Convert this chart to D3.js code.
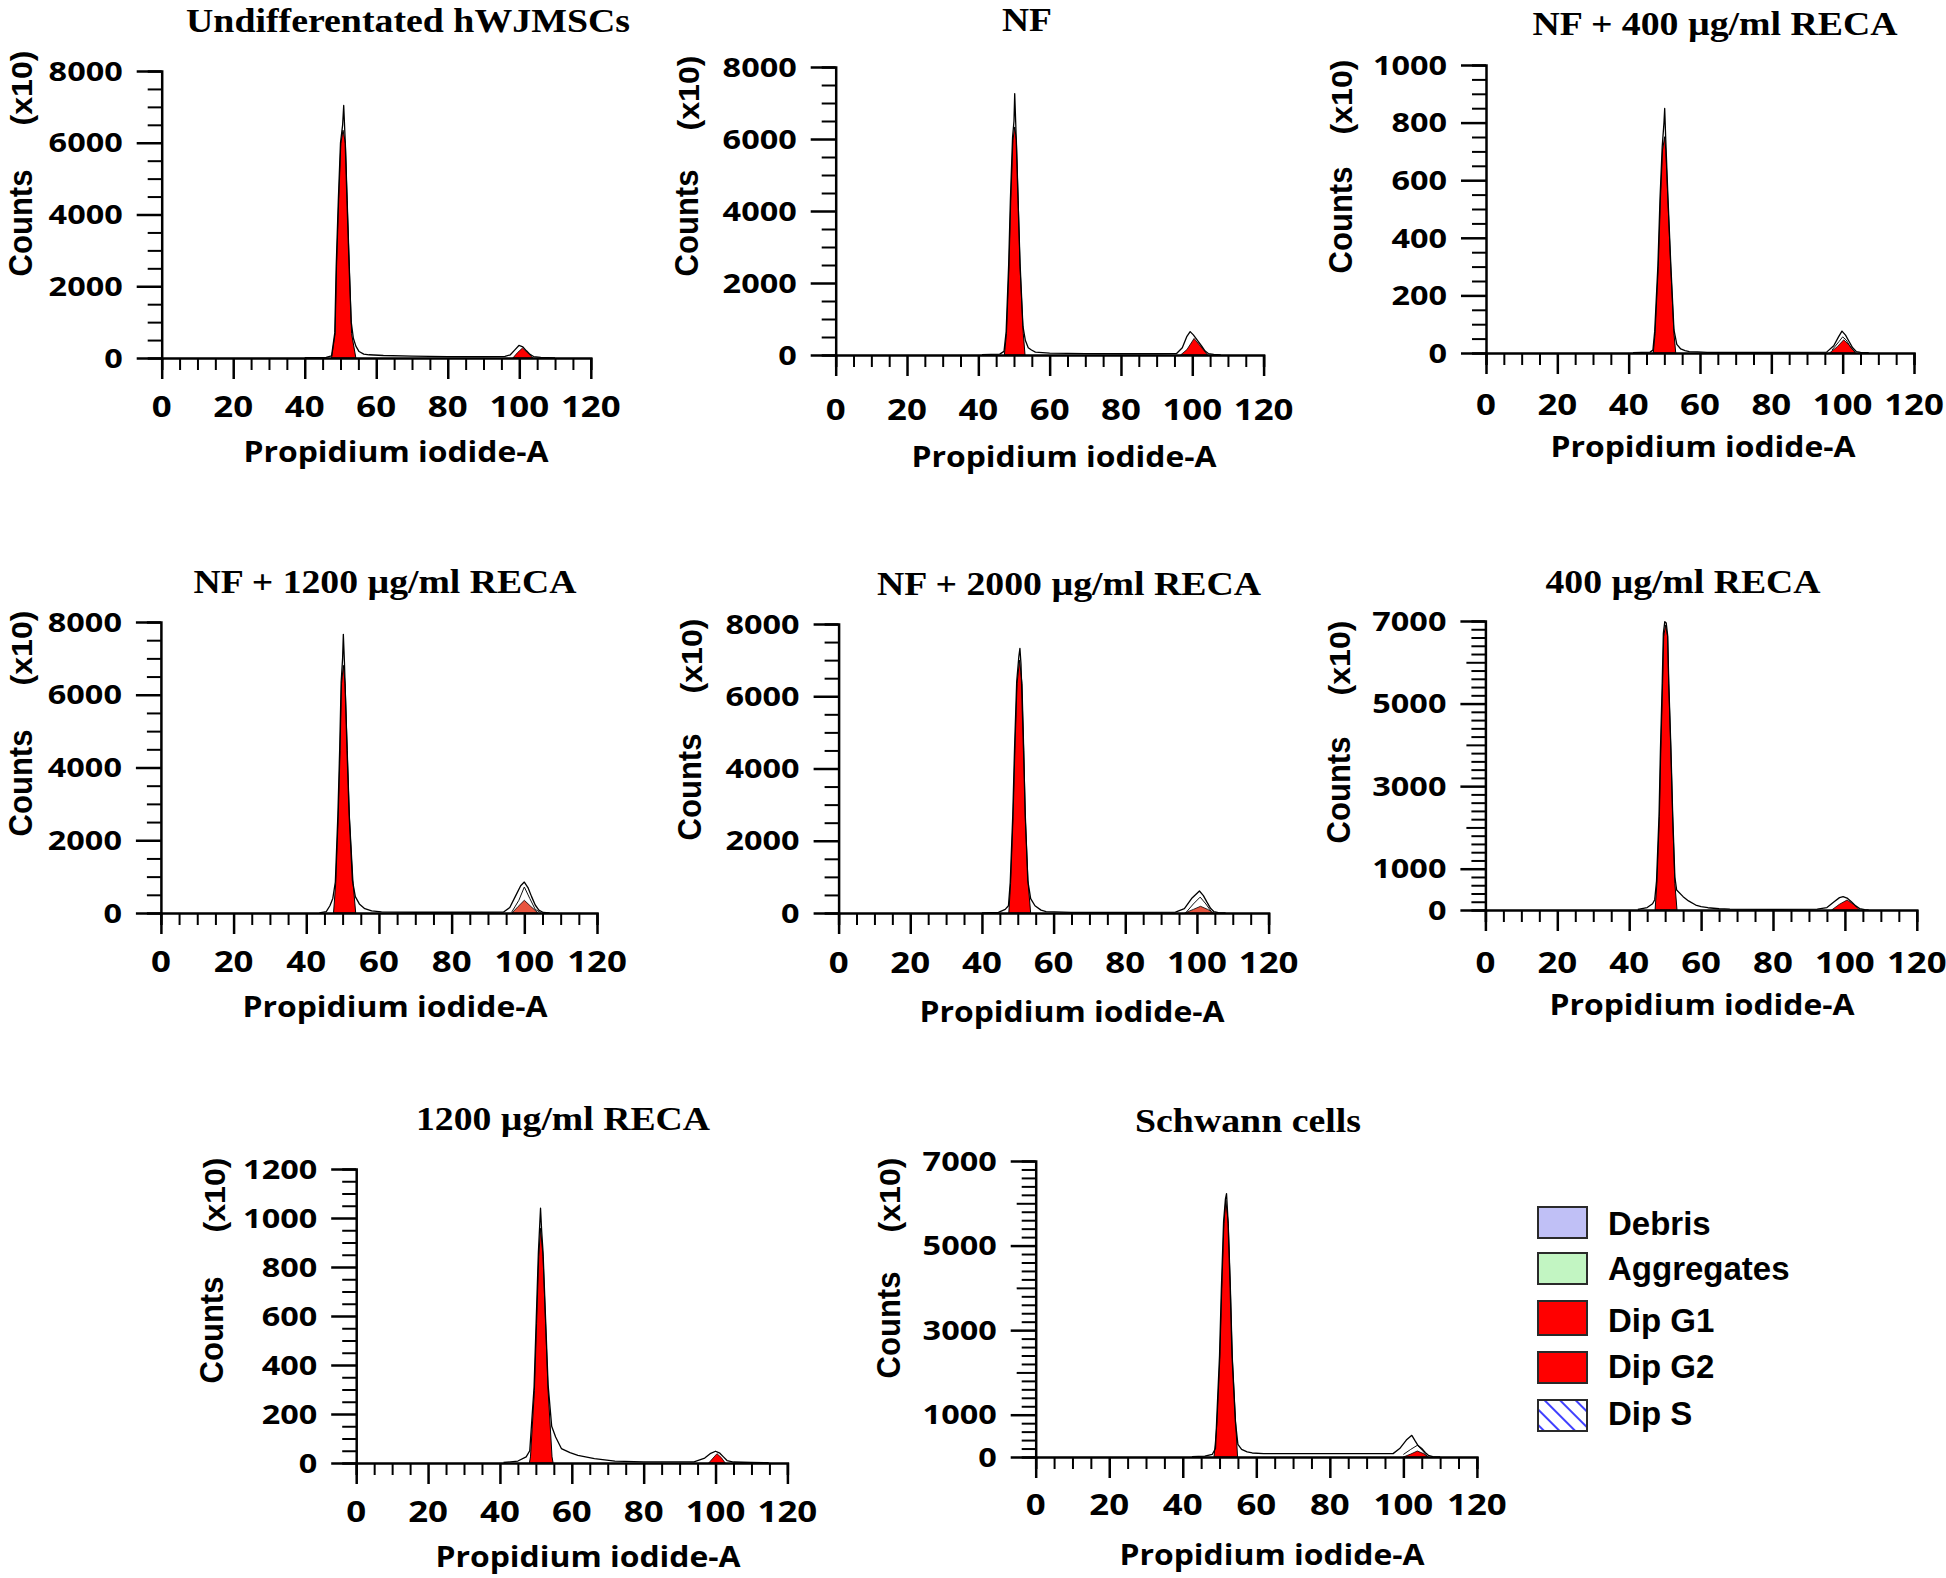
<!DOCTYPE html>
<html><head><meta charset="utf-8">
<script src="https://cdn.jsdelivr.net/npm/d3@7"></script>
<style>body{margin:0;background:#fff}</style>
</head><body>
<svg id="chart" width="1946" height="1578" xmlns="http://www.w3.org/2000/svg"></svg>
<script>
// ================= DATA =================
const panelTitles = ["Undifferentated hWJMSCs", "NF", "NF + 400 µg/ml RECA", "NF + 1200 µg/ml RECA",
  "NF + 2000 µg/ml RECA", "400 µg/ml RECA", "1200 µg/ml RECA", "Schwann cells"];
const xTickLabels = [0, 20, 40, 60, 80, 100, 120];
const yMax = [8000, 8000, 1000, 8000, 8000, 7000, 1200, 7000];
const yMinorStep = [500, 500, 50, 500, 500, 200, 50, 200];
const yTickLabels = [
  [0, 2000, 4000, 6000, 8000],
  [0, 2000, 4000, 6000, 8000],
  [0, 200, 400, 600, 800, 1000],
  [0, 2000, 4000, 6000, 8000],
  [0, 2000, 4000, 6000, 8000],
  [0, 1000, 3000, 5000, 7000],
  [0, 200, 400, 600, 800, 1000, 1200],
  [0, 1000, 3000, 5000, 7000]
];
const xAxisLabel = "Propidium iodide-A";
const yAxisLabel = "Counts";
const yUnitLabel = "(x10)";
const legendLabels = ["Debris", "Aggregates", "Dip G1", "Dip G2", "Dip S"];

// Dip G1 (red) peak outlines: [channel, counts]
const g1Undiff = [[47.5,0],[48.5,680],[48.9,2540],[49.5,4400],[50.1,5980],[50.7,6350],[51.4,5980],[51.9,4400],[52.5,2540],[53.1,680],[54.3,0]];
const g1NF = [[47.3,0],[47.9,600],[48.6,2450],[49.1,4300],[49.7,5960],[50.2,6335],[50.7,5960],[51.2,4300],[51.7,2450],[52.6,600],[53.1,0]];
const g1NF400 = [[46.9,0],[47.4,67],[48.3,299],[48.9,531],[49.5,705],[50.1,751],[50.4,705],[51,531],[51.8,299],[52.7,67],[53.2,0]];
const g1NF1200 = [[47.5,0],[48.1,806],[48.8,2640],[49.3,4470],[49.7,6300],[50.2,6808],[50.7,6300],[51.3,4470],[51.9,2640],[52.9,806],[53.6,0]];
const g1NF2000 = [[47.5,0],[48,813],[48.7,2660],[49.2,4500],[49.8,6350],[50.5,7000],[51.2,6350],[51.7,4500],[52.1,2660],[52.9,813],[53.6,0]];
const g1R400 = [[47.2,0],[47.7,646],[48.4,2260],[48.8,3875],[49.3,5490],[49.6,6620],[50.1,6900],[50.7,6620],[51,5490],[51.6,3875],[52.1,2260],[52.7,646],[53.3,0]];
const g1R1200 = [[48.2,0],[48.5,25],[49.6,297],[50.2,570],[50.8,843],[51.3,958],[52,843],[52.7,570],[53.4,297],[54.5,25],[54.8,0]];
const g1Schwann = [[48.5,0],[49.3,789],[50.1,2365],[50.6,3940],[51.2,5520],[51.7,6070],[52.4,5520],[53,3940],[53.5,2365],[54.4,789],[54.9,0]];

// Dip G2 (red) peak outlines
const g2Undiff = [[98.2,0],[99.5,150],[100.9,279],[102.4,140],[103.8,0]];
const g2NF = [[96.7,0],[98.5,150],[100.5,460],[102.5,220],[104.3,0]];
const g2NF400 = [[96.3,0],[98.5,22],[100.3,46],[102,25],[103.6,0]];
const g2NF1200 = [[96.6,0],[98.3,180],[100,350],[101.8,180],[103.8,0]];
const g2NF2000 = [[96.6,0],[99,100],[101,185],[103,100],[104.7,0]];
const g2R400 = [[96.3,0],[98.5,140],[100.6,242],[102.5,130],[104.1,0]];
const g2R1200 = [[98.1,0],[99.3,20],[100.4,38],[101.6,22],[102.7,0]];
const g2Schwann = [[100,0],[102,70],[103.8,142],[105.5,80],[106.8,0]];

// Total fitted histogram envelope (black line)
const fitUndiff = [[40,10],[46,20],[47.5,60],[48.4,700],[48.8,2560],[49.4,4420],[50,6000],[50.6,6500],[50.9,7040],[51.3,6100],[51.8,4450],[52.4,2600],[53,1000],[53.6,550],[54.3,330],[55.2,180],[56.5,110],[58,90],[62,70],[70,50],[80,40],[90,40],[96,45],[97.5,90],[98.7,220],[99.9,350],[101,310],[102,200],[103,100],[104,40],[106,15],[110,5]];
const fitNF = [[41,10],[46,25],[47.2,100],[47.8,650],[48.5,2500],[49,4350],[49.6,6050],[50,6500],[50.2,7260],[50.5,6400],[51.1,4400],[51.7,2550],[52.5,800],[53.2,400],[54,200],[54.9,140],[56,80],[60,50],[70,40],[80,35],[90,35],[95.6,40],[97.2,200],[98.5,520],[99.4,650],[100.3,560],[101.5,400],[102.6,250],[103.6,110],[104.5,40],[106,15],[108,5]];
const fitNF400 = [[41.2,1],[46,3],[46.8,10],[47.3,75],[48.2,305],[48.8,540],[49.4,715],[49.9,800],[50.1,849],[50.4,740],[51,545],[51.8,310],[52.7,80],[53.5,30],[54.6,14],[55.8,8],[57,5],[59.3,4],[62,2],[80,2],[95.5,3],[97.5,25],[98.8,55],[99.8,76],[100.8,62],[101.8,40],[102.8,18],[103.8,5],[105,2],[107.3,1]];
const fitNF1200 = [[43.6,5],[45.5,40],[46.5,200],[47.3,400],[48,850],[48.7,2700],[49.2,4520],[49.6,6350],[50,7000],[50.2,7660],[50.5,6900],[51.2,4550],[51.8,2700],[52.7,900],[53.5,450],[54.6,250],[56.1,120],[58,60],[60.7,30],[70,20],[85,20],[94.3,25],[96,150],[97.5,450],[99,750],[100,850],[101,700],[102,450],[103,220],[104,80],[105.2,15],[107,5]];
const fitNF2000 = [[40,5],[44.6,20],[46.5,100],[47.4,200],[47.9,850],[48.6,2700],[49.1,4550],[49.7,6400],[50.3,7100],[50.6,7325],[50.9,6900],[51.6,4550],[52.1,2700],[52.8,900],[53.6,400],[54.8,200],[56.5,80],[57.9,40],[65,20],[80,20],[94,25],[96.5,120],[98.5,400],[100.7,610],[101.8,480],[102.8,300],[103.8,130],[104.7,40],[106,10],[108,3]];
const fitR400 = [[42.4,15],[45,60],[46.5,150],[47.1,250],[47.6,700],[48.3,2300],[48.7,3920],[49.2,5540],[49.5,6700],[49.9,6985],[50.3,6950],[50.7,6650],[51,5520],[51.6,3900],[52.1,2300],[52.7,800],[53.2,485],[55,323],[56.5,220],[58.5,120],[60,80],[61.9,55],[65,30],[68,20],[80,15],[92.3,20],[95,60],[97,200],[98.5,300],[99.5,323],[100.6,290],[101.8,200],[103,100],[104.1,35],[105.5,10],[106.6,3]];
const fitR1200 = [[41,2],[45,8],[47.3,25],[48.3,50],[49.5,310],[50.1,585],[50.7,860],[51.1,980],[51.3,1040],[51.6,950],[52,860],[52.7,590],[53.4,320],[54.4,150],[55.5,106],[57.1,59],[59.5,42],[61.7,31],[66.3,18],[72,8],[80,5],[94,5],[97,20],[98.5,38],[100,48],[101.2,40],[102.2,25],[103.2,10],[105,4],[110,2],[114.8,1]];
const fitSchwann = [[42.5,10],[46,20],[48,60],[48.9,200],[49.2,820],[50,2400],[50.5,3980],[51.1,5560],[51.6,6100],[51.9,6230],[52.3,5600],[52.9,4000],[53.4,2400],[54.3,850],[55,300],[56,180],[57.5,120],[58.9,95],[62,82],[70,80],[80,80],[90,80],[97.2,80],[99,200],[100.8,400],[102.3,512],[103.2,380],[104,270],[105,200],[106,100],[106.8,40],[108,10],[110,3]];

// secondary (inner) G2-region outlines
const innerUndiff = [];
const innerNF = [];
const innerNF400 = [[97,10],[99,40],[100,56],[101,45],[102.5,15],[103.5,3]];
const innerNF1200 = [[96.5,20],[98.5,350],[100,715],[101.5,400],[103,100],[104.5,10]];
const innerNF2000 = [[97,20],[99,250],[100.9,440],[102.5,250],[104,40]];
const innerR400 = [];
const innerR1200 = [];
const innerSchwann = [[100,60],[102,180],[103.8,276],[105.2,150],[106.5,20]];

const g1Series = [g1Undiff, g1NF, g1NF400, g1NF1200, g1NF2000, g1R400, g1R1200, g1Schwann];
const g2Series = [g2Undiff, g2NF, g2NF400, g2NF1200, g2NF2000, g2R400, g2R1200, g2Schwann];
const fitSeries = [fitUndiff, fitNF, fitNF400, fitNF1200, fitNF2000, fitR400, fitR1200, fitSchwann];
const innerSeries = [innerUndiff, innerNF, innerNF400, innerNF1200, innerNF2000, innerR400, innerR1200, innerSchwann];

// ================= LAYOUT / STYLE =================
const layout = [
  {ax:161.7, ax120:590.8, y0:358, yTop:71, title:[408,32,444], counts:[20,223], x10:[21,88], xlab:[396,462], tickBase:417},
  {ax:835.7, ax120:1263.6, y0:355, yTop:67, title:[1027,31,50], counts:[686,223], x10:[688,93], xlab:[1064,467], tickBase:420},
  {ax:1486, ax120:1914, y0:353, yTop:65, title:[1715,35,365], counts:[1340,220], x10:[1341,97], xlab:[1703,457], tickBase:415},
  {ax:160.9, ax120:597, y0:913, yTop:622, title:[385,593,383], counts:[20,783], x10:[21,648], xlab:[395,1017], tickBase:972},
  {ax:838.6, ax120:1268.6, y0:913, yTop:624, title:[1069,595,384], counts:[689,787], x10:[691.5,656], xlab:[1072,1022], tickBase:973},
  {ax:1485.4, ax120:1916.8, y0:910, yTop:621, title:[1683,593,275], counts:[1338,790], x10:[1339,658], xlab:[1702,1015], tickBase:973},
  {ax:356.2, ax120:787.4, y0:1463, yTop:1169, title:[563,1130,294], counts:[211,1330], x10:[214,1195], xlab:[588,1567], tickBase:1522},
  {ax:1035.7, ax120:1476.9, y0:1457, yTop:1161, title:[1248,1132,226], counts:[888,1325], x10:[889,1195], xlab:[1272,1565], tickBase:1515}
];
const g2Fill = ["#ff0000","#ff0000","#ff0000","#e8553f","#e8553f","#ff0000","#ff0000","#ff0000"];
const SANS = "'Open Sans', 'DejaVu Sans', sans-serif";
const ARIAL = "'Liberation Sans', Arial, sans-serif";
const SERIF = "'Liberation Serif', 'Times New Roman', serif";

const svg = d3.select("#chart");
svg.append("rect").attr("width",1946).attr("height",1578).attr("fill","#fff");

const defs = svg.append("defs");
const pat = defs.append("pattern").attr("id","hatch").attr("patternUnits","userSpaceOnUse")
  .attr("width",11).attr("height",11).attr("patternTransform","rotate(-45)");
pat.append("rect").attr("width",11).attr("height",11).attr("fill","#fff");
pat.append("line").attr("x1",3).attr("y1",-1).attr("x2",3).attr("y2",12)
  .attr("stroke","#2b2bff").attr("stroke-width",1.8);

layout.forEach((L, i) => {
  const g = svg.append("g");
  const x = d3.scaleLinear().domain([0,120]).range([L.ax, L.ax120]);
  const y = d3.scaleLinear().domain([0, yMax[i]]).range([L.y0, L.yTop]);

  // histogram marks
  const area = d3.area().x(d => x(d[0])).y0(y(0)).y1(d => y(d[1]));
  const line = d3.line().x(d => x(d[0])).y(d => y(d[1]));
  g.append("path").datum(g1Series[i]).attr("d", area)
    .attr("fill","#ff0000").attr("stroke","#000").attr("stroke-width",1).attr("stroke-linejoin","round");
  g.append("path").datum(g2Series[i]).attr("d", area)
    .attr("fill", g2Fill[i]).attr("stroke","#000").attr("stroke-width",0.8);
  if (innerSeries[i].length) {
    g.append("path").datum(innerSeries[i]).attr("d", line)
      .attr("fill","none").attr("stroke","#111").attr("stroke-width",1);
  }
  g.append("path").datum(fitSeries[i]).attr("d", line)
    .attr("fill","none").attr("stroke","#000").attr("stroke-width",1.3).attr("stroke-linejoin","round");

  // x axis
  const gx = g.append("g").attr("transform", `translate(0,${L.y0})`)
    .call(d3.axisBottom(x).tickValues(d3.range(0, 121, 5)).tickFormat("").tickSizeOuter(0).tickSize(12));
  gx.selectAll(".tick line").attr("y2", d => d % 20 === 0 ? 21 : 12).attr("stroke-width", d => d % 20 === 0 ? 2.5 : 2);
  gx.select(".domain").attr("stroke-width", 2.5);

  // y axis
  const labels = yTickLabels[i];
  const gy = g.append("g").attr("transform", `translate(${L.ax},0)`)
    .call(d3.axisLeft(y).tickValues(d3.range(0, yMax[i] + 1, yMinorStep[i])).tickFormat("").tickSizeOuter(0).tickSize(14));
  gy.selectAll(".tick line").attr("x2", d => labels.includes(d) ? -25 : ((i === 5 || i === 7) && d % 1000 === 0 ? -19 : -14))
    .attr("stroke-width", d => labels.includes(d) ? 2.5 : 2);
  gy.select(".domain").attr("stroke-width", 2.5);

  // tick labels
  labels.forEach(v => {
    g.append("text").attr("transform", `translate(${L.ax - 39},${y(v)}) scale(1.2,1)`)
      .attr("text-anchor","end").attr("dy","0.36em")
      .style("font-family", SANS).style("font-weight", 700).style("font-size","27px").text(v);
  });
  xTickLabels.forEach(v => {
    g.append("text").attr("transform", `translate(${x(v)},${L.tickBase}) scale(1.2,1)`)
      .attr("text-anchor","middle")
      .style("font-family", SANS).style("font-weight", 700).style("font-size","29px").text(v);
  });

  // axis titles
  g.append("text").attr("x", L.xlab[0]).attr("y", L.xlab[1]).attr("text-anchor","middle")
    .attr("textLength", 305).attr("lengthAdjust","spacingAndGlyphs")
    .style("font-family", SANS).style("font-weight", 700).style("font-size","29px").text(xAxisLabel);
  g.append("text").attr("transform", `translate(${L.counts[0]},${L.counts[1]}) rotate(-90)`)
    .attr("text-anchor","middle").attr("dy","0.36em")
    .attr("textLength", 107).attr("lengthAdjust","spacingAndGlyphs")
    .style("font-family", ARIAL).style("font-weight", 700).style("font-size","33px").text(yAxisLabel);
  g.append("text").attr("transform", `translate(${L.x10[0]},${L.x10[1]}) rotate(-90)`)
    .attr("text-anchor","middle").attr("dy","0.36em")
    .attr("textLength", 75).attr("lengthAdjust","spacingAndGlyphs")
    .style("font-family", ARIAL).style("font-weight", 700).style("font-size","30px").text(yUnitLabel);

  // panel title
  g.append("text").attr("x", L.title[0]).attr("y", L.title[1]).attr("text-anchor","middle")
    .attr("textLength", L.title[2]).attr("lengthAdjust","spacingAndGlyphs")
    .style("font-family", SERIF).style("font-weight", 700).style("font-size","34px").text(panelTitles[i]);
});

// legend
const legendFill = ["#c0c0f6", "#c2f5c2", "#ff0000", "#ff0000", "url(#hatch)"];
const legendBoxY = [1207, 1253, 1301, 1352, 1400];
const legendBoxH = [31, 31, 34, 31, 31];
const legendTextY = [1235, 1280, 1332, 1378, 1425];
const lg = svg.append("g");
legendLabels.forEach((lab, k) => {
  lg.append("rect").attr("x", 1538).attr("y", legendBoxY[k]).attr("width", 49).attr("height", legendBoxH[k])
    .attr("fill", legendFill[k]).attr("stroke", "#2a2a2a").attr("stroke-width", 2);
  lg.append("text").attr("x", 1608).attr("y", legendTextY[k])
    .style("font-family", ARIAL).style("font-weight", 700).style("font-size", "33px")
    .text(lab);
});
</script>
</body></html>
